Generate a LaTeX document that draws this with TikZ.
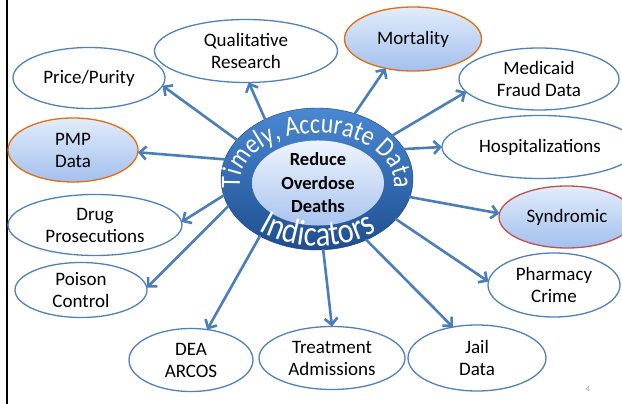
\documentclass[tikz,border=0pt]{standalone}
\usepackage{fontspec}
\setmainfont{Carlito}
\newfontfamily\ringfont[FakeStretch=0.85]{Carlito}
\usetikzlibrary{shapes.geometric, arrows.meta, decorations.text}

\definecolor{edgeblue}{HTML}{4F81BD}
\definecolor{arrowblue}{HTML}{4A7EBB}
\definecolor{hiorange}{HTML}{E46C0A}
\definecolor{hired}{HTML}{C0504D}
\definecolor{hitop}{HTML}{E2ECFB}
\definecolor{hibot}{HTML}{A3C0EE}
\definecolor{ringtop}{HTML}{4A88D2}
\definecolor{ringbot}{HTML}{1E4E90}
\definecolor{coretop}{HTML}{EEF4FD}
\definecolor{corebot}{HTML}{A9C4EE}
\definecolor{pagegray}{HTML}{A0A0A0}

\begin{document}
\begin{tikzpicture}[x=1pt, y=1pt,
  topic/.style={ellipse, draw=edgeblue, line width=1.3pt, fill=white,
    inner sep=0pt, outer sep=0pt, align=center,
    font=\fontsize{19}{22}\selectfont},
  dims/.style 2 args={minimum width=#1, minimum height=#2},
  keytopic/.style={topic, draw=hiorange, top color=hitop, bottom color=hibot},
  alerttopic/.style={topic, draw=hired, top color=hitop, bottom color=hibot},
  arr/.style={draw=arrowblue, line width=2.6pt, line cap=round,
    -{Straight Barb[length=6.5pt, width=13pt]}},
  ringtext/.style={decorate, decoration={text along path, text align=center, text={#1}}}
]
\useasboundingbox (0,0) rectangle (622,404);
\fill[white] (0,0) rectangle (622,404);

% slide frame edge
\draw[line width=2.5pt, black] (7,0) -- (7,404);

% surrounding data sources
\node[topic, dims={152}{61}]      (price)  at (89,326)  {Price/Purity};
\node[keytopic, dims={130}{64}]   (pmp)    at (73,254)  {PMP\\Data};
\node[topic, dims={183}{63}]      (qual)   at (246,353) {Qualitative\\Research};
\node[keytopic, dims={137}{64}]   (mort)   at (413,365) {Mortality};
\node[topic, dims={160}{62}]      (medi)   at (539,325) {Medicaid\\Fraud Data};
\node[topic, dims={196}{63}]      (hosp)   at (540,257) {Hospitalizations};
\node[alerttopic, dims={136}{62}] (synd)   at (567,187) {Syndromic};
\node[topic, dims={132}{64}]      (pharm)  at (554,119) {Pharmacy\\Crime};
\node[topic, dims={138}{66}]      (jail)   at (477,46)  {Jail\\Data};
\node[topic, dims={146}{63}]      (treat)  at (332,46)  {Treatment\\Admissions};
\node[topic, dims={124}{63}]      (dea)    at (191,44)  {DEA\\ARCOS};
\node[topic, dims={132}{55}]      (poison) at (81,114)  {Poison\\Control};
\node[topic, dims={174}{61}]      (drug)   at (95,179)  {Drug\\Prosecutions};

% central hub: ring with the goal in its core
\node[ellipse, minimum width=192, minimum height=142, inner sep=0pt, outer sep=0pt,
      top color=ringtop, bottom color=ringbot, draw=ringbot!80!black, line width=0.4pt]
      (hub) at (317,225) {};
\node[ellipse, minimum width=132, minimum height=74, inner sep=0pt, outer sep=0pt,
      top color=coretop, bottom color=corebot, align=center,
      font=\bfseries\fontsize{18.5}{23.5}\selectfont]
      (core) at (318,221) {Reduce\\Overdose\\Deaths};

\path[ringtext={|\ringfont\fontsize{28}{28}\selectfont\color{white}|Timely, Accurate Data}]
  (317,221) ++(190:77 and 50) arc[start angle=190, end angle=-10, x radius=77, y radius=50];
\path[ringtext={|\ringfont\fontsize{36}{36}\selectfont\color{white}|Indicators}]
  (318,221) ++(225:90 and 63) arc[start angle=225, end angle=315, x radius=90, y radius=63];

% connectors from the hub
\draw[arr] (hub.154)  -- (price.-6);
\draw[arr] (hub.168)  -- (pmp.-2);
\draw[arr] (hub.131)  -- (qual.-85);
\draw[arr] (hub.60)   -- (mort.-133);
\draw[arr] (hub.30)   -- (medi.190);
\draw[arr] (hub.19)   -- (hosp.180);
\draw[arr] (hub.-11)  -- (synd.177);
\draw[arr] (hub.-27)  -- (pharm.177);
\draw[arr] (hub.-51)  -- (jail.128);
\draw[arr] (hub.-85)  -- (treat.90);
\draw[arr] (hub.-135) -- (dea.62);
\draw[arr] (hub.-163) -- (poison.2);
\draw[arr] (hub.-170) -- (drug.2);

% page number
\node[text=pagegray, font=\fontsize{8}{9}\selectfont] (page) at (588,15) {4};
\end{tikzpicture}
\end{document}
